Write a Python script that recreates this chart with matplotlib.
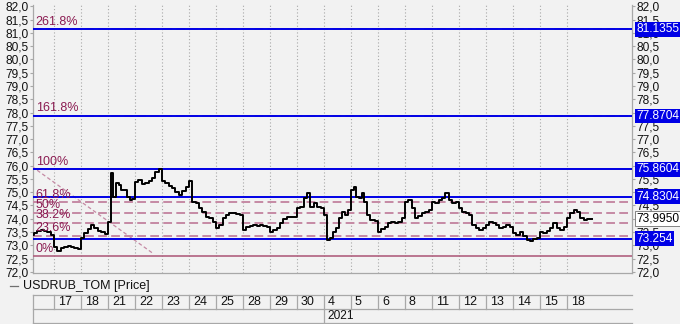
import matplotlib
matplotlib.use('Agg')
import matplotlib.pyplot as plt
import matplotlib.transforms as mtransforms
from matplotlib.ticker import FuncFormatter, MultipleLocator
from matplotlib.lines import Line2D
import numpy as np

plt.rcParams['font.family'] = ['Liberation Sans', 'DejaVu Sans']

# ---------------- data ----------------
day_labels = ['', '17', '18', '21', '22', '23', '24', '25', '28', '29', '30',
              '4', '5', '6', '8', '11', '12', '13', '14', '15', '18']
year_label = '2021'
year_start_day = 11

intraday_prices = [
    [73.35, 73.38, 73.45, 73.55, 73.57, 73.52, 73.50, 73.40],                 # 16 Dec
    [72.92, 72.78, 72.88, 72.92, 72.97, 72.93, 72.88, 72.86],                 # 17
    [73.26, 73.45, 73.62, 73.76, 73.64, 73.55, 73.51, 73.42],                 # 18
    [73.89, 75.71, 74.83, 75.33, 75.27, 75.08, 75.08, 74.83, 74.70, 74.73],   # 21
    [75.39, 75.46, 75.31, 75.36, 75.42, 75.52, 75.77, 75.86],                 # 22
    [75.42, 75.33, 75.25, 75.15, 75.02, 74.90, 75.05, 75.21],                 # 23
    [75.43, 74.64, 74.58, 74.40, 74.26, 74.07, 74.01, 73.89],                 # 24
    [73.64, 73.76, 74.01, 74.14, 74.20, 74.20, 74.18, 74.14],                 # 25
    [73.57, 73.70, 73.72, 73.76, 73.72, 73.76, 73.72, 73.70],                 # 28
    [73.51, 73.58, 73.64, 73.83, 73.98, 74.05, 74.05, 74.07],                 # 29
    [74.39, 74.45, 74.77, 74.96, 74.45, 74.58, 74.45, 74.39],                 # 30
    [74.14, 73.20, 73.26, 73.51, 73.64, 74.01, 74.26, 74.14, 74.33],          # 4 Jan
    [75.08, 75.21, 74.83, 74.77, 74.96, 74.64, 74.14, 73.95, 73.95, 73.90],   # 5
    [73.51, 73.60, 73.70, 73.83, 73.89, 73.85, 73.89, 74.01],                 # 6
    [74.64, 74.70, 74.39, 74.01, 74.12, 74.20, 74.26, 74.33],                 # 8
    [74.64, 74.60, 74.70, 74.77, 74.96, 74.70, 74.58, 74.64],                 # 11
    [74.39, 74.26, 74.20, 74.14, 73.76, 73.64, 73.57, 73.64],                 # 12
    [73.76, 73.89, 73.82, 73.76, 73.64, 73.70, 73.76, 73.70],                 # 13
    [73.45, 73.39, 73.51, 73.35, 73.20, 73.16, 73.22, 73.26],                 # 14
    [73.51, 73.45, 73.55, 73.64, 73.83, 73.64, 73.57, 73.70],                 # 15
    [74.01, 74.20, 74.33, 74.26, 74.01, 73.95, 73.98, 73.995],                # 18
]

level_values = [81.1355, 77.8704, 75.8604, 74.8304, 73.254]
level_texts = ['81.1355', '77.8704', '75.8604', '74.8304', '73.254']
last_price = 73.995
last_price_text = '73,9950'

fib_low = 72.597
fib_high = 75.8604
fib_ratios = [0.0, 0.236, 0.382, 0.5, 0.618, 1.0, 1.618, 2.618]
fib_labels = ['0%', '23.6%', '38.2%', '50%', '61.8%', '100%', '161.8%', '261.8%']
fib_solid = [True, False, False, False, False, True, False, False]
trend_x = [0.0, 4.63]
trend_y = [76.10, 72.72]

series_name = 'USDRUB_TOM [Price]'

# ---------------- layout ----------------
W, H = 680, 324
BG = '#f2f2f2'
GRID = '#a8a8a8'
FIB_C = '#c58aa4'
FIB_SOLID_C = '#b0607f'
FIB_TXT = '#8b1c52'
BLUE = '#0000e6'
FS = 8.6

fig = plt.figure(figsize=(W / 100, H / 100), dpi=100, facecolor=BG)
L, R = 33, 632
ax = fig.add_axes([L / W, 1 - 273 / H, (R - L) / W, (273 - 5) / H], facecolor=BG)

xmin, xmax = 1 - 21 / 27.0, 20 + 65 / 27.0
ax.set_xlim(xmin, xmax)
ax.set_ylim(71.955, 82.049)

# price series
xs, ys = [], []
for i, vals in enumerate(intraday_prices):
    n = len(vals)
    for k, v in enumerate(vals):
        xs.append(i + (k + 0.5) / n)
        ys.append(v)
ax.plot(xs, ys, color='black', lw=1.4, zorder=6, drawstyle='steps-mid')

# vertical dotted grid at day boundaries
for d in range(1, len(day_labels)):
    ax.axvline(d, color=GRID, lw=0.8, ls=(0, (1, 2)), zorder=1)

# fib levels
rng = fib_high - fib_low
for r, lab, solid in zip(fib_ratios, fib_labels, fib_solid):
    v = fib_low + r * rng
    if solid:
        ax.axhline(v, color=FIB_SOLID_C, lw=1.2, zorder=3)
    else:
        ax.axhline(v, color=FIB_C, lw=1.4, ls=(0, (4.5, 2.2)), zorder=3)
    ax.annotate(lab, xy=(xmin, v), xytext=(2, 1), textcoords='offset points',
                ha='left', va='bottom', color=FIB_TXT, fontsize=FS + 0.4, zorder=7)

ax.plot(trend_x, trend_y, color=FIB_C, lw=0.9, ls=(0, (3, 2)), zorder=3)

# blue level lines and their labels
trans = mtransforms.blended_transform_factory(ax.transAxes, ax.transData)
for v, t in zip(level_values, level_texts):
    ax.axhline(v, color=BLUE, lw=1.4, zorder=4)
    ax.text(1.0 + 4.5 / (R - L), v, t, transform=trans, ha='left', va='center',
            color='white', fontsize=FS, clip_on=False, zorder=10,
            bbox=dict(boxstyle='square,pad=0.12', fc=BLUE, ec='none'))
ax.text(1.0 + 4.5 / (R - L), last_price, last_price_text, transform=trans,
        ha='left', va='center', color='black', fontsize=FS, clip_on=False,
        zorder=10, bbox=dict(boxstyle='square,pad=0.12', fc='white', ec='#707070', lw=0.6))

# axes styling
ax.yaxis.set_major_locator(MultipleLocator(0.5))
ax.yaxis.set_major_formatter(FuncFormatter(lambda v, p: f'{v:.1f}'.replace('.', ',')))
ax.tick_params(axis='y', which='both', left=True, right=True, labelleft=True,
               labelright=True, length=2.5, width=0.8, color=GRID, pad=1,
               labelsize=FS, labelcolor='#111111')
ax.set_xticks([])
for s in ['left', 'right', 'bottom']:
    ax.spines[s].set_color(GRID)
    ax.spines[s].set_linewidth(0.9)
ax.spines['top'].set_visible(False)

# legend
fig.add_artist(Line2D([10 / W, 18 / W], [1 - 286 / H, 1 - 286 / H], color='#707070', lw=0.9))
fig.text(23 / W, 1 - 286 / H, series_name, ha='left', va='center', fontsize=FS + 0.4, color='#111111')

# date axis
dax = fig.add_axes([L / W, 1 - 323 / H, (R - L) / W, (323 - 295) / H])
dax.set_xlim(xmin, xmax)
dax.set_ylim(0, 2)
dax.axis('off')
LC = '#a8a8a8'
for yy in [0, 1, 2]:
    dax.plot([xmin, xmax], [yy, yy], color=LC, lw=0.9, clip_on=False)
dax.plot([xmin, xmin], [0, 2], color=LC, lw=0.9, clip_on=False)
for d, lab in enumerate(day_labels):
    if d >= 1:
        dax.plot([d, d], [1, 2], color=LC, lw=0.9, clip_on=False)
    if lab:
        dax.text(d + 4 / 27.0, 1.5, lab, ha='left', va='center', fontsize=FS + 0.4, color='#111111')
dax.plot([year_start_day, year_start_day], [0, 1], color=LC, lw=0.9, clip_on=False)
dax.text(year_start_day + 3 / 27.0, 0.5, year_label, ha='left', va='center', fontsize=FS, color='#111111')

fig.savefig('out.png', dpi=100, facecolor=BG)
